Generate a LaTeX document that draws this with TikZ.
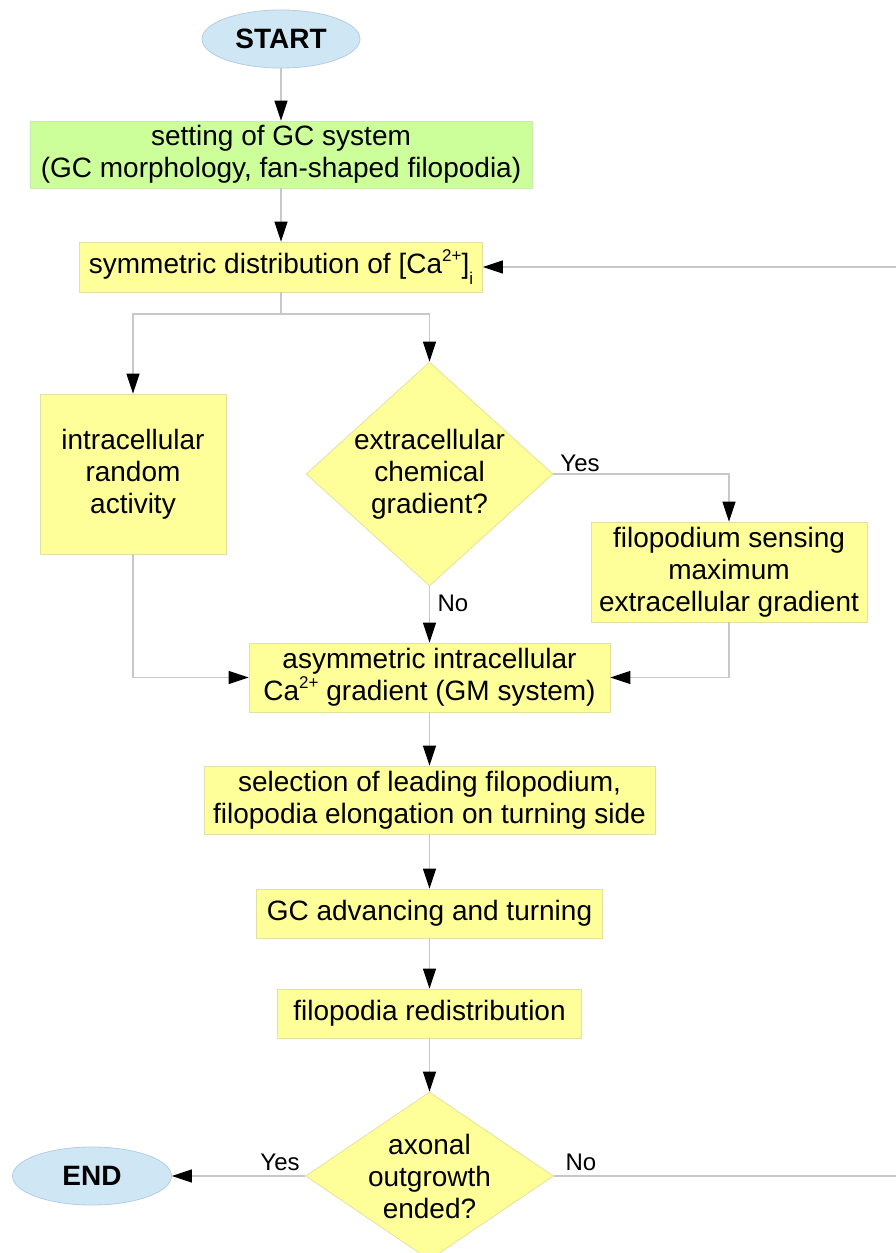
\documentclass[tikz,border=0pt]{standalone}
\usepackage{fontspec}
\setmainfont{Liberation Sans}
\usetikzlibrary{arrows.meta,shapes.geometric}
\definecolor{boxyellow}{RGB}{255,255,153}
\definecolor{boxyellowline}{RGB}{226,226,160}
\definecolor{boxgreen}{RGB}{204,255,153}
\definecolor{boxgreenline}{RGB}{200,235,170}
\definecolor{ovalblue}{RGB}{207,231,245}
\definecolor{ovalline}{RGB}{180,205,225}
\definecolor{connc}{RGB}{200,200,200}
\newcommand{\mysup}[1]{\raisebox{0.42em}{\fontsize{17}{17}\selectfont #1}}
\newcommand{\mysub}[1]{\raisebox{-0.38em}{\fontsize{17}{17}\selectfont #1}}
\begin{document}
\begin{tikzpicture}[x=1pt,y=-1pt,
  every node/.style={font=\fontsize{28}{32}\selectfont},
  proc/.style={rectangle, fill=boxyellow, draw=boxyellowline, line width=0.8pt, inner sep=0pt, align=center},
  procg/.style={proc, fill=boxgreen, draw=boxgreenline},
  decis/.style={diamond, fill=boxyellow, draw=boxyellowline, line width=0.8pt, inner sep=0pt},
  oval/.style={ellipse, fill=ovalblue, draw=ovalline, line width=0.8pt, inner sep=0pt},
  dtext/.style={align=center, inner sep=0pt},
  lbl/.style={font=\fontsize{24}{28}\selectfont, inner sep=0pt},
  connline/.style={draw=connc, line width=1.2pt},
  arr/.style={connline, -{Triangle[length=20pt,width=13pt,color=black]}}
]
\useasboundingbox (0,0) rectangle (896,1253);

% nodes
\node[oval, minimum width=158pt, minimum height=58pt] (start) at (281,39) {\bfseries START};
\node[procg, minimum width=502pt, minimum height=67pt] (setting) at (281,154.5) {setting of GC system\\(GC morphology, fan-shaped filopodia)};
\node[proc, minimum width=403pt, minimum height=50pt] (sym) at (281,267) {symmetric distribution of [Ca\mysup{2+}]\mysub{i}};
\node[proc, minimum width=186pt, minimum height=160pt] (rand) at (133,474) {intracellular\\random\\activity};
\node[decis, minimum width=247pt, minimum height=224pt] (d1) at (429.5,474) {};
\node[dtext] (d1t) at (d1.center) {extracellular\\chemical\\gradient?};
\node[proc, minimum width=276pt, minimum height=100pt] (sense) at (729,572) {filopodium sensing\\maximum\\extracellular gradient};
\node[proc, minimum width=361pt, minimum height=69pt] (asym) at (429.5,677.5) {asymmetric intracellular\\Ca\mysup{2+} gradient (GM system)};
\node[proc, minimum width=451pt, minimum height=68pt] (sel) at (429.5,800) {selection of leading filopodium,\\filopodia elongation on turning side};
\node[proc, minimum width=346pt, minimum height=49pt] (adv) at (429.5,913.5) {GC advancing and turning};
\node[proc, minimum width=304pt, minimum height=49pt] (redis) at (429.5,1013.5) {filopodia redistribution};
\node[decis, minimum width=248pt, minimum height=168pt] (d2) at (429.5,1176) {};
\node[dtext] (d2t) at (d2.center) {axonal\\outgrowth\\ended?};
\node[oval, minimum width=159pt, minimum height=58pt] (end) at (92,1176) {\bfseries END};

% labels
\node[lbl] (yes1) at (580,463) {Yes};
\node[lbl] (no1) at (453,603) {No};
\node[lbl] (yes2) at (280,1162) {Yes};
\node[lbl] (no2) at (581,1162) {No};

% coordinates
\coordinate (split) at (281,314);
\coordinate (fbin) at (896,267);
\coordinate (fbout) at (896,1176);

% connectors
\draw[arr] (start) -- (setting);
\draw[arr] (setting) -- (sym);
\draw[arr] (fbin) -- (sym.east);
\draw[connline] (sym.south) -- (split);
\draw[arr] (split) -| (rand.north);
\draw[arr] (split) -| (d1.north);
\draw[arr] (d1.east) -| (sense.north);
\draw[arr] (d1.south) -- (asym.north);
\draw[arr] (rand.south) |- (asym.west);
\draw[arr] (sense.south) |- (asym.east);
\draw[arr] (asym) -- (sel);
\draw[arr] (sel) -- (adv);
\draw[arr] (adv) -- (redis);
\draw[arr] (redis) -- (d2);
\draw[arr] (d2.west) -- (end.east);
\draw[connline] (d2.east) -- (fbout);
\end{tikzpicture}
\end{document}
